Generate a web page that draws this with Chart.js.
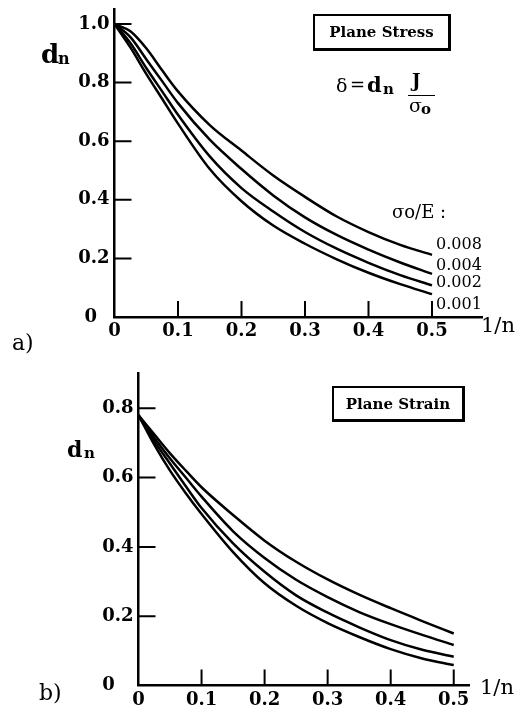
<!DOCTYPE html>
<html>
<head>
<meta charset="utf-8">
<script src="https://cdn.jsdelivr.net/npm/chart.js@4.4.1/dist/chart.umd.min.js"></script>
<style>
  html, body { margin: 0; padding: 0; background: #fff; }
  #page { position: relative; width: 525px; height: 705px; overflow: hidden; font-family: "DejaVu Serif", serif; color: #000; }
  canvas { position: absolute; left: 0; }
  .t { position: absolute; white-space: nowrap; line-height: 1; }
  .box { position: absolute; box-sizing: border-box; border: 2px solid #000; border-right-width: 3px; border-bottom-width: 3px;
         display: flex; align-items: center; justify-content: center; font-weight: bold; font-size: 15px; }
  .bar { position: absolute; height: 1.5px; background: #000; }
</style>
</head>
<body>
<div id="page">
  <canvas id="stressChart" width="525" height="352" style="top:0"></canvas>
  <canvas id="strainChart" width="525" height="353" style="top:352px"></canvas>

  <div class="box" style="left:313px;top:14px;width:138px;height:37px;">Plane Stress</div>
  <div class="bar" style="left:408px;top:94.5px;width:27px;"></div>
  <div class="box" style="left:332px;top:386px;width:133px;height:36px;">Plane Strain</div>
</div>

<script>
// 1/n values where the curves were read
const xs = [0, 0.025, 0.05, 0.075, 0.1, 0.15, 0.2, 0.25, 0.3, 0.35, 0.4, 0.45, 0.5];

// a) plane stress, d_n for sigma0/E = 0.008, 0.004, 0.002, 0.001
const stress008 = [1.0, 0.975, 0.917, 0.842, 0.77, 0.655, 0.568, 0.483, 0.41, 0.343, 0.29, 0.246, 0.212];
const stress004 = [1.0, 0.955, 0.88, 0.805, 0.73, 0.605, 0.505, 0.415, 0.34, 0.28, 0.23, 0.186, 0.147];
const stress002 = [1.0, 0.935, 0.85, 0.77, 0.69, 0.548, 0.44, 0.36, 0.29, 0.233, 0.185, 0.143, 0.108];
const stress001 = [1.0, 0.92, 0.83, 0.745, 0.66, 0.505, 0.395, 0.312, 0.25, 0.197, 0.151, 0.112, 0.078];

// b) plane strain, same four sigma0/E values
const strain008 = [0.78, 0.725, 0.67, 0.62, 0.572, 0.492, 0.418, 0.357, 0.306, 0.262, 0.223, 0.186, 0.15];
const strain004 = [0.78, 0.715, 0.655, 0.6, 0.545, 0.445, 0.368, 0.305, 0.255, 0.212, 0.177, 0.146, 0.117];
const strain002 = [0.78, 0.705, 0.64, 0.575, 0.512, 0.41, 0.328, 0.26, 0.21, 0.168, 0.131, 0.103, 0.083];
const strain001 = [0.78, 0.695, 0.62, 0.555, 0.495, 0.385, 0.295, 0.23, 0.18, 0.14, 0.105, 0.078, 0.059];

const curveLabels = ['0.008', '0.004', '0.002', '0.001'];

// tick values and labels
const xTicks = [0, 0.1, 0.2, 0.3, 0.4, 0.5];
const xTickLabels = ['0', '0.1', '0.2', '0.3', '0.4', '0.5'];
const stressYTicks = [0, 0.2, 0.4, 0.6, 0.8, 1.0];
const stressYLabels = ['0  ', '0.2', '0.4', '0.6', '0.8', '1.0'];
const strainYTicks = [0, 0.2, 0.4, 0.6, 0.8];
const strainYLabels = ['0   ', '0.2', '0.4', '0.6', '0.8'];

const tickFont = { family: 'DejaVu Serif', size: 18, weight: 'bold' };

// tick marks drawn inside the plot, like the original figure
const inwardTicks = {
  id: 'inwardTicks',
  afterDraw(chart) {
    const { ctx, chartArea, scales: { x, y } } = chart;
    ctx.save();
    ctx.strokeStyle = '#000';
    ctx.lineWidth = 2;
    ctx.beginPath();
    x.ticks.forEach(t => {
      if (t.value === 0) return;
      const px = x.getPixelForValue(t.value);
      ctx.moveTo(px, chartArea.bottom);
      ctx.lineTo(px, chartArea.bottom - 16);
    });
    y.ticks.forEach(t => {
      if (t.value === 0) return;
      const py = y.getPixelForValue(t.value);
      ctx.moveTo(chartArea.left, py);
      ctx.lineTo(chartArea.left + 17, py);
    });
    ctx.stroke();
    ctx.restore();
  }
};

function makeChart(id, series, xMax, yMax, yTicks, yLabels, area) {
  const canvas = document.getElementById(id);
  return new Chart(canvas, {
    type: 'line',
    data: {
      datasets: series.map((s, k) => ({
        label: curveLabels[k],
        data: xs.map((x, i) => ({ x: x, y: s[i] })),
        borderColor: '#000',
        borderWidth: 2.5,
        pointRadius: 0,
        fill: false,
        cubicInterpolationMode: 'monotone'
      }))
    },
    options: {
      responsive: false,
      animation: false,
      devicePixelRatio: 1,
      layout: { padding: { left: 0, top: area.top, right: canvas.width - area.right, bottom: 0 } },
      plugins: { legend: { display: false }, tooltip: { enabled: false } },
      scales: {
        x: {
          type: 'linear', min: 0, max: xMax,
          afterBuildTicks: s => { s.ticks = xTicks.map(v => ({ value: v })); },
          afterFit: s => { s.height = canvas.height - area.bottom; s.paddingLeft = 0; s.paddingRight = 0; },
          grid: { display: false, drawTicks: false },
          border: { display: true, color: '#000', width: 2.5 },
          ticks: { color: '#000', font: tickFont, padding: 4, maxRotation: 0, autoSkip: false,
                   callback: (v, i) => xTickLabels[i] }
        },
        y: {
          type: 'linear', min: 0, max: yMax,
          afterBuildTicks: s => { s.ticks = yTicks.map(v => ({ value: v })); },
          afterFit: s => { s.width = area.left; s.paddingTop = 0; s.paddingBottom = 0; },
          grid: { display: false, drawTicks: false },
          border: { display: true, color: '#000', width: 2.5 },
          ticks: { color: '#000', font: tickFont, padding: 5, autoSkip: false,
                   callback: (v, i) => yLabels[i] }
        }
      }
    },
    plugins: [inwardTicks]
  });
}

makeChart('stressChart', [stress008, stress004, stress002, stress001], 0.58, 1.05,
  stressYTicks, stressYLabels, { left: 114.5, right: 482.8, top: 9.35, bottom: 317 });
makeChart('strainChart', [strain008, strain004, strain002, strain001], 0.525, 0.9,
  strainYTicks, strainYLabels, { left: 138.5, right: 469.5, top: 21.6, bottom: 333.5 });

// text on the figure, placed by baseline
const page = document.getElementById('page');
function put(html, x, base, size, bold) {
  const el = document.createElement('div');
  el.className = 't';
  el.innerHTML = html;
  el.style.left = x + 'px';
  el.style.top = (base - 0.846 * size) + 'px';
  el.style.fontSize = size + 'px';
  if (bold) el.style.fontWeight = 'bold';
  page.appendChild(el);
}

put('d', 41, 63, 26, true);
put('n', 58, 65, 16, true);
put('δ', 336, 92, 19, false);
put('=', 350, 91, 18, false);
put('d', 367, 92, 21, true);
put('n', 383, 95, 15, true);
put('J', 412, 87, 18, true);
put('σ', 409, 112, 19, false);
put('o', 421, 115, 15, true);
put('σo/E :', 392, 218, 18, false);
put(curveLabels[0], 436, 250, 16, false);
put(curveLabels[1], 436, 270.5, 16, false);
put(curveLabels[2], 436, 288, 16, false);
put(curveLabels[3], 436, 310, 16, false);
put('1/n', 481, 333, 21, false);
put('a)', 12, 351, 22, false);

put('d', 67, 457, 22, true);
put('n', 84, 459, 15, true);
put('1/n', 480, 695, 21, false);
put('b)', 39, 701, 22, false);
</script>
</body>
</html>
